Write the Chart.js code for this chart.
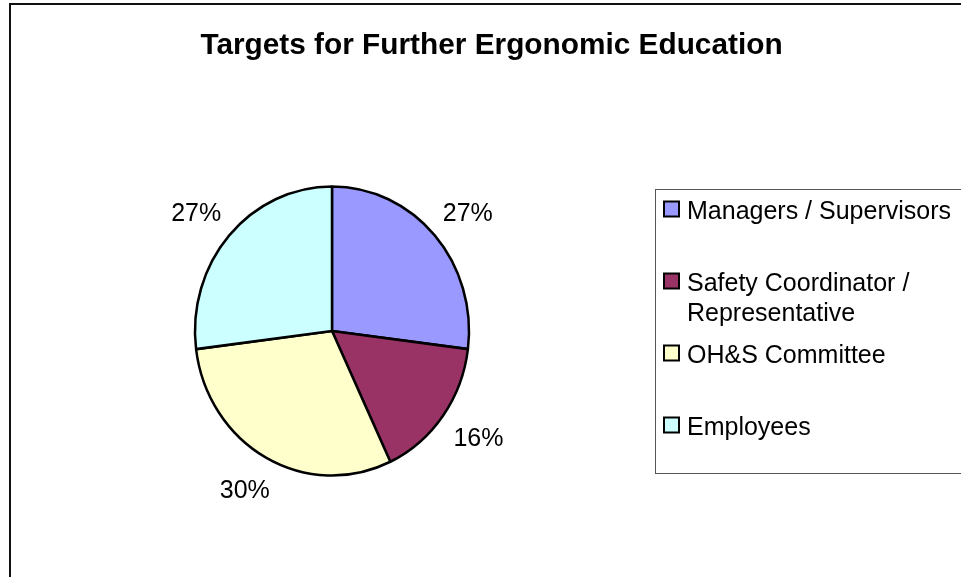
<!DOCTYPE html>
<html>
<head>
<meta charset="utf-8">
<script src="https://cdn.jsdelivr.net/npm/chart.js@4.4.0/dist/chart.umd.min.js"></script>
<style>
  html, body { margin: 0; padding: 0; background: #fff; }
  #wrap { width: 961px; height: 577px; position: relative; }
</style>
</head>
<body>
<div id="wrap"><canvas id="pieChart" width="961" height="577"></canvas></div>
<script>
const chartTitle = "Targets for Further Ergonomic Education";
const categories = ["Managers / Supervisors", "Safety Coordinator / Representative", "OH&S Committee", "Employees"];
const shares = [27, 16, 30, 27];
const sliceColors = ["#9999FF", "#993366", "#FFFFCC", "#CCFFFF"];

const FONT = "'Liberation Sans', Arial, sans-serif";
const Y_STRETCH = 1.055; // the original pie is a little taller than wide

// wrap a label into lines that fit maxWidth
function wrapText(ctx, text, maxWidth) {
    const words = text.split(" ");
    const lines = [];
    let line = "";
    words.forEach(w => {
        const test = line ? line + " " + w : w;
        if (ctx.measureText(test).width > maxWidth && line) {
            lines.push(line);
            line = w;
        } else {
            line = test;
        }
    });
    if (line) lines.push(line);
    return lines;
}

const excelLook = {
    id: "excelLook",
    beforeDraw(chart) {
        const ctx = chart.ctx;
        ctx.save();
        ctx.fillStyle = "#fff";
        ctx.fillRect(0, 0, chart.width, chart.height);
        // outer chart frame (runs off the right and bottom)
        ctx.strokeStyle = "#111";
        ctx.lineWidth = 2;
        ctx.strokeRect(10, 4, 1000, 1000);
        // title
        ctx.fillStyle = "#000";
        ctx.font = "bold 29.8px " + FONT;
        ctx.textAlign = "center";
        ctx.textBaseline = "alphabetic";
        ctx.fillText(chartTitle, 491.5, 53.5);
        ctx.restore();
    },
    beforeDatasetsDraw(chart) {
        const arc = chart.getDatasetMeta(0).data[0];
        const ctx = chart.ctx;
        ctx.save();
        ctx.translate(arc.x, arc.y);
        ctx.scale(1, Y_STRETCH);
        ctx.translate(-arc.x, -arc.y);
    },
    afterDatasetsDraw(chart) {
        const ctx = chart.ctx;
        ctx.restore();

        // percentage labels outside the slices
        ctx.save();
        ctx.fillStyle = "#000";
        ctx.font = "25px " + FONT;
        ctx.textAlign = "center";
        ctx.textBaseline = "alphabetic";
        chart.getDatasetMeta(0).data.forEach((arc, i) => {
            const p = arc.getProps(["x", "y", "startAngle", "endAngle", "outerRadius"], true);
            const mid = (p.startAngle + p.endAngle) / 2;
            const lx = p.x + Math.cos(mid) * (p.outerRadius + 44);
            const ly = p.y + Math.sin(mid) * (p.outerRadius + 34) * Y_STRETCH;
            ctx.fillText(shares[i] + "%", lx, ly + 9);
        });
        ctx.restore();

        // legend box
        ctx.save();
        ctx.strokeStyle = "#555";
        ctx.lineWidth = 1;
        ctx.strokeRect(655.5, 189.5, 400, 284);
        ctx.font = "25px " + FONT;
        ctx.textAlign = "left";
        ctx.textBaseline = "alphabetic";
        let rowY = 209;
        chart.data.labels.forEach((label, i) => {
            ctx.fillStyle = sliceColors[i];
            ctx.fillRect(664, rowY - 7.5, 15, 15);
            ctx.strokeStyle = "#000";
            ctx.lineWidth = 2;
            ctx.strokeRect(664, rowY - 7.5, 15, 15);
            ctx.fillStyle = "#000";
            const lines = wrapText(ctx, label, 272);
            lines.forEach((ln, k) => {
                ctx.fillText(ln, 687, rowY + 9.5 + k * 30);
            });
            rowY += 72;
        });
        ctx.restore();
    }
};

const ctx = document.getElementById("pieChart");
new Chart(ctx, {
    type: "pie",
    data: {
        labels: categories,
        datasets: [
            {
                data: shares,
                backgroundColor: sliceColors,
                borderColor: "#000",
                borderWidth: 2.5,
                borderAlign: "center"
            }
        ]
    },
    options: {
        responsive: false,
        animation: false,
        radius: 137,
        layout: {
            padding: { left: 195, right: 492, top: 186, bottom: 101 }
        },
        plugins: {
            legend: { display: false },
            tooltip: { enabled: false },
            title: { display: false }
        }
    },
    plugins: [excelLook]
});
</script>
</body>
</html>
